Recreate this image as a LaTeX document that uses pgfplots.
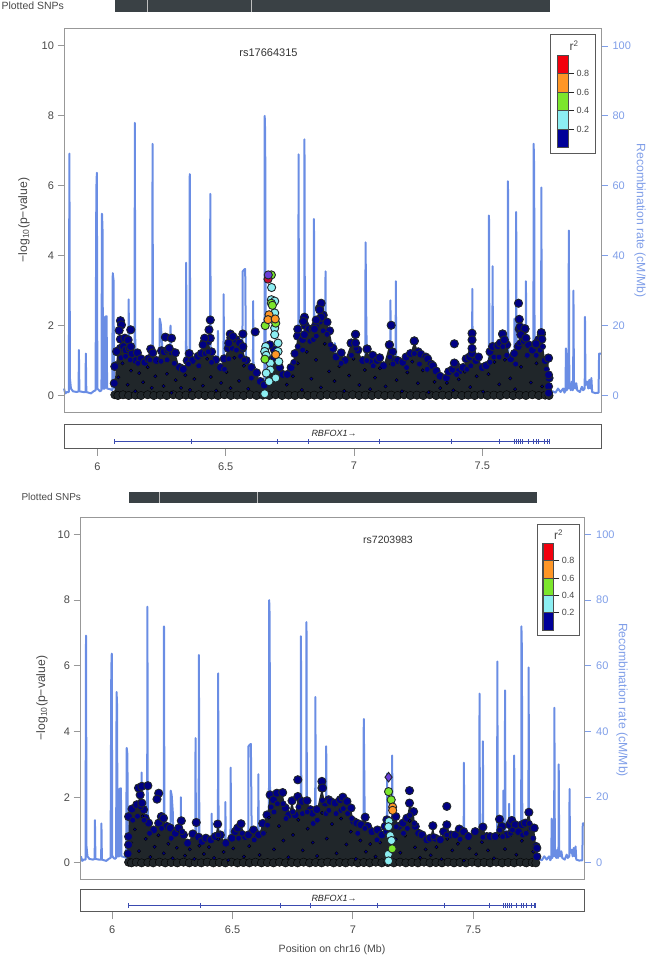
\documentclass[border=0pt]{standalone}
\usepackage{pgfplots}
\pgfplotsset{compat=1.18}
\usepackage{pgfplotstable}
\usepackage{fontspec}
\setmainfont{Liberation Sans}
\definecolor{recl}{HTML}{6A8DE4}
\definecolor{rect}{HTML}{7F9EE8}
\definecolor{darkm}{HTML}{20262A}
\definecolor{navyd}{HTML}{000084}
\definecolor{cyanp}{HTML}{8CEEF2}
\definecolor{greenp}{HTML}{7CE62C}
\definecolor{orangep}{HTML}{FF9626}
\definecolor{purplep}{HTML}{6A3FD8}
\definecolor{redp}{HTML}{C41030}
\definecolor{txt}{HTML}{484848}
\definecolor{boxg}{HTML}{989898}
\definecolor{genel}{HTML}{3A4AB0}
\definecolor{barc}{HTML}{3A4145}

% recombination rate (cM/Mb)
\pgfplotstableread{
x y
5.870 2.0
5.875 0.6
5.882 1.0
5.889 1.0
5.891 69.2
5.893 5.0
5.897 2.0
5.905 1.2
5.920 1.0
5.927 1.2
5.928 13.0
5.930 1.2
5.945 1.0
5.954 1.0
5.955 12.0
5.957 1.0
5.975 0.6
5.985 1.2
5.993 1.5
5.996 59.0
5.998 63.7
6.000 2.0
6.010 1.2
6.016 1.5
6.018 52.0
6.020 48.0
6.022 2.0
6.029 2.0
6.030 22.5
6.036 22.7
6.038 2.0
6.050 1.8
6.058 1.5
6.060 35.0
6.063 33.0
6.065 2.0
6.100 2.0
6.121 2.0
6.122 27.5
6.124 2.0
6.145 2.0
6.146 78.0
6.148 2.0
6.214 2.0
6.215 72.0
6.217 2.0
6.242 2.0
6.243 22.0
6.247 20.5
6.252 15.0
6.254 2.0
6.284 2.0
6.285 20.0
6.287 2.0
6.345 2.0
6.346 38.0
6.348 2.0
6.359 2.0
6.360 63.3
6.362 2.0
6.412 2.0
6.413 15.0
6.415 2.0
6.439 2.0
6.440 57.7
6.442 2.0
6.469 2.0
6.470 18.5
6.472 2.0
6.491 2.0
6.492 29.0
6.494 2.0
6.565 2.0
6.566 35.5
6.572 36.0
6.576 36.2
6.580 2.0
6.606 2.0
6.607 27.0
6.609 2.0
6.651 2.0
6.652 80.0
6.654 75.0
6.656 2.0
6.783 2.0
6.784 69.0
6.786 2.0
6.806 2.0
6.807 73.3
6.809 2.0
6.843 2.0
6.844 50.5
6.846 2.0
6.888 2.0
6.889 35.5
6.891 2.0
6.924 2.0
6.925 15.0
6.927 2.0
7.044 2.0
7.045 43.8
7.048 20.5
7.052 2.0
7.141 2.0
7.142 27.2
7.144 2.0
7.162 2.0
7.163 32.7
7.165 2.0
7.460 2.0
7.461 30.5
7.463 2.0
7.525 2.0
7.526 51.5
7.528 2.0
7.539 2.0
7.540 37.0
7.542 2.0
7.599 2.0
7.600 61.3
7.602 2.0
7.624 2.0
7.625 22.0
7.627 2.0
7.631 2.0
7.632 52.5
7.634 2.0
7.648 2.0
7.649 18.0
7.651 2.0
7.669 2.0
7.670 32.7
7.672 2.0
7.699 2.0
7.700 72.0
7.702 65.0
7.704 2.0
7.729 2.0
7.730 59.5
7.732 2.0
7.765 1.0
7.775 1.2
7.785 0.8
7.795 2.0
7.805 1.0
7.815 2.0
7.820 0.8
7.824 1.5
7.826 13.5
7.829 1.5
7.833 12.0
7.836 2.0
7.837 47.2
7.839 3.0
7.845 1.5
7.849 4.0
7.852 1.5
7.854 2.0
7.855 30.0
7.857 4.0
7.862 2.0
7.866 3.5
7.870 1.5
7.880 1.0
7.888 2.5
7.893 1.5
7.899 2.0
7.900 22.5
7.902 3.0
7.908 4.0
7.913 2.0
7.917 4.5
7.921 2.0
7.925 5.0
7.928 1.0
7.940 0.7
7.953 0.8
7.955 12.0
7.9625 12.0
}\recomb

% SNPs at the floor of the mass (both panels)
\pgfplotstableread{
x y
6.068 0.02
6.080 0.00
6.100 0.02
6.122 0.00
6.148 0.01
6.170 0.00
6.196 0.02
6.220 0.00
6.245 0.01
6.270 0.00
6.296 0.02
6.320 0.00
6.345 0.01
6.370 0.00
6.395 0.02
6.420 0.00
6.445 0.01
6.470 0.00
6.495 0.02
6.520 0.00
6.545 0.01
6.570 0.00
6.595 0.02
6.620 0.00
6.645 0.01
6.670 0.00
6.695 0.02
6.720 0.00
6.745 0.01
6.770 0.00
6.795 0.02
6.820 0.00
6.845 0.01
6.870 0.00
6.895 0.02
6.920 0.00
6.945 0.01
6.970 0.00
6.995 0.02
7.020 0.00
7.045 0.01
7.070 0.00
7.095 0.02
7.120 0.00
7.145 0.01
7.170 0.00
7.195 0.02
7.220 0.00
7.245 0.01
7.270 0.00
7.295 0.02
7.320 0.00
7.345 0.01
7.370 0.00
7.395 0.02
7.420 0.00
7.445 0.01
7.470 0.00
7.495 0.02
7.520 0.00
7.545 0.01
7.570 0.00
7.595 0.02
7.620 0.00
7.645 0.01
7.670 0.00
7.695 0.02
7.720 0.00
7.745 0.01
7.760 0.00
}\floorrow

% panel 1 SNP upper envelope
\pgfplotstableread{
x y
6.068 0.35
6.072 0.85
6.078 1.25
6.090 1.35
6.102 1.40
6.112 1.30
6.125 1.35
6.135 1.20
6.150 1.00
6.156 1.22
6.170 1.05
6.185 0.95
6.200 1.05
6.208 1.33
6.216 1.22
6.230 1.00
6.250 1.28
6.260 1.25
6.275 1.30
6.290 1.25
6.304 1.22
6.320 0.80
6.335 0.75
6.350 1.00
6.358 1.20
6.370 1.00
6.392 1.12
6.405 1.20
6.415 1.50
6.430 1.55
6.445 1.25
6.461 1.02
6.480 0.80
6.494 1.05
6.510 1.35
6.520 1.65
6.540 1.60
6.555 1.45
6.565 1.35
6.580 1.00
6.600 0.80
6.620 0.65
6.635 0.40
6.650 0.30
6.670 1.00
6.690 1.30
6.710 0.80
6.723 0.60
6.740 0.60
6.755 0.80
6.770 1.20
6.780 1.70
6.800 1.60
6.810 2.00
6.825 1.90
6.840 1.90
6.850 2.00
6.865 2.50
6.880 2.30
6.895 2.10
6.905 1.85
6.918 1.35
6.930 1.10
6.950 1.22
6.965 1.00
6.989 1.50
7.006 1.75
7.015 1.30
7.034 1.00
7.051 1.33
7.065 1.00
7.073 1.15
7.090 1.00
7.100 1.08
7.115 0.85
7.138 1.45
7.150 1.25
7.160 1.00
7.170 1.00
7.190 0.95
7.203 1.10
7.220 1.20
7.235 1.56
7.250 1.25
7.260 1.18
7.280 1.10
7.287 1.05
7.300 0.90
7.307 0.85
7.320 0.70
7.335 0.55
7.360 0.50
7.369 0.68
7.385 0.75
7.395 0.90
7.410 0.70
7.425 0.80
7.437 1.05
7.450 1.10
7.460 1.20
7.475 1.00
7.485 1.10
7.500 0.80
7.515 0.85
7.530 1.25
7.540 1.40
7.560 1.42
7.570 1.50
7.579 1.76
7.595 1.45
7.610 1.05
7.625 1.20
7.640 1.40
7.644 1.90
7.655 1.90
7.666 1.90
7.680 1.45
7.695 1.30
7.709 1.45
7.720 1.60
7.730 1.75
7.745 1.00
7.757 1.07
7.760 0.50
}\envA

\pgfplotstableread{
x y
6.092 1.08
6.110 1.12
6.128 1.02
6.158 0.92
6.205 1.02
6.248 0.98
6.272 1.02
6.300 0.92
6.355 0.90
6.395 0.85
6.420 1.20
6.432 1.25
6.445 0.95
6.495 0.75
6.512 1.05
6.525 1.35
6.542 1.30
6.558 1.12
6.572 1.02
6.600 0.50
6.765 0.95
6.782 1.40
6.800 1.30
6.812 1.70
6.828 1.55
6.842 1.60
6.853 1.70
6.868 2.10
6.880 1.85
6.895 1.75
6.908 1.45
6.950 0.92
6.990 1.15
7.008 1.35
7.050 1.00
7.075 0.85
7.140 1.10
7.152 0.90
7.205 0.80
7.235 1.20
7.255 0.90
7.285 0.75
7.400 0.60
7.440 0.75
7.455 0.85
7.530 0.95
7.545 1.10
7.565 1.10
7.580 1.40
7.595 1.15
7.630 0.90
7.645 1.50
7.660 1.55
7.675 1.15
7.710 1.15
7.725 1.30
7.735 1.40
7.750 0.75
}\innerA

\pgfplotstableread{
x y
6.090 2.14
6.094 2.02
6.085 1.86
6.130 1.88
6.090 1.61
6.107 1.64
6.120 1.59
6.130 1.40
6.265 1.67
6.289 1.64
6.280 1.35
6.440 2.16
6.435 1.88
6.440 1.64
6.418 1.64
6.412 1.45
6.518 1.76
6.528 1.69
6.512 1.50
6.567 1.76
6.615 1.82
6.554 1.50
6.567 1.40
6.781 1.90
6.807 2.24
6.803 2.12
6.807 1.74
6.846 1.90
6.872 2.64
6.866 2.45
6.872 2.24
6.853 2.16
7.006 1.75
6.989 1.50
7.006 1.50
7.145 2.01
7.138 1.45
7.051 1.33
7.391 1.48
7.391 0.93
7.460 1.78
7.460 1.59
7.460 1.35
7.235 1.56
7.579 1.76
7.586 1.59
7.641 2.64
7.644 2.18
7.647 1.96
7.666 1.91
7.650 1.74
7.670 1.64
7.730 1.80
7.732 1.61
7.709 1.48
7.758 1.07
7.758 0.59
7.758 0.26
7.758 0.07
6.075 1.26
6.068 0.83
6.066 0.35
6.672 1.45
6.688 1.05
}\dotsA

\pgfplotstableread{
x y
6.082 0.52
6.098 0.92
6.118 0.31
6.131 0.71
6.148 0.12
6.163 0.64
6.178 0.38
6.196 0.81
6.212 0.22
6.226 0.55
6.241 0.98
6.258 0.27
6.271 0.62
6.289 0.08
6.305 0.44
6.326 0.22
6.343 0.58
6.361 0.16
6.378 0.47
6.398 0.82
6.411 0.28
6.428 1.05
6.442 0.53
6.463 0.14
6.482 0.36
6.503 0.67
6.519 0.21
6.534 1.08
6.552 0.42
6.571 0.85
6.588 0.19
6.604 0.52
6.738 0.31
6.762 0.55
6.781 0.92
6.797 0.16
6.816 1.25
6.834 0.48
6.852 1.02
6.871 0.23
6.886 1.48
6.903 0.69
6.924 0.41
6.943 0.84
6.962 0.13
6.981 0.57
6.998 1.05
7.021 0.30
7.042 0.73
7.063 0.18
7.082 0.51
7.101 0.78
7.123 0.26
7.145 0.90
7.166 0.44
7.187 0.12
7.208 0.66
7.227 0.97
7.249 0.35
7.268 0.72
7.291 0.09
7.314 0.39
7.336 0.21
7.362 0.36
7.387 0.15
7.408 0.46
7.432 0.68
7.453 0.24
7.478 0.55
7.503 0.11
7.524 0.61
7.547 0.96
7.566 0.32
7.588 1.02
7.609 0.49
7.628 0.18
7.651 0.82
7.671 1.12
7.689 0.37
7.711 0.92
7.733 0.26
7.750 0.58
}\speckA

% panel 2 SNP upper envelope
\pgfplotstableread{
x y
6.068 0.80
6.068 1.41
6.082 1.64
6.102 1.77
6.116 2.07
6.130 1.62
6.137 1.36
6.151 1.21
6.172 1.00
6.193 1.21
6.204 1.41
6.213 1.36
6.227 1.11
6.241 1.06
6.262 0.90
6.276 1.06
6.287 1.28
6.296 0.85
6.313 0.60
6.335 0.88
6.359 0.78
6.373 0.65
6.389 0.75
6.410 0.70
6.428 0.80
6.438 1.18
6.449 0.85
6.472 0.60
6.497 0.75
6.511 0.95
6.521 1.06
6.535 1.19
6.553 0.80
6.566 0.85
6.587 1.00
6.608 0.85
6.625 1.20
6.643 1.46
6.656 2.07
6.670 1.92
6.684 2.12
6.708 2.14
6.719 1.67
6.733 1.46
6.747 1.89
6.760 1.46
6.771 2.02
6.788 1.87
6.809 1.89
6.823 1.62
6.832 1.51
6.850 1.62
6.871 2.28
6.885 1.82
6.899 1.92
6.906 1.87
6.926 1.82
6.947 1.92
6.958 2.00
6.975 1.87
6.992 1.67
7.003 1.26
7.016 1.21
7.033 1.16
7.051 1.39
7.061 1.11
7.079 0.95
7.102 1.00
7.120 0.85
7.134 1.11
7.141 1.31
7.155 1.26
7.178 1.41
7.190 1.11
7.208 1.21
7.224 1.36
7.235 1.82
7.252 1.56
7.259 1.11
7.273 0.90
7.287 0.85
7.307 0.70
7.321 0.75
7.332 1.13
7.342 0.75
7.363 0.70
7.377 0.95
7.390 1.16
7.407 0.85
7.425 0.85
7.442 1.03
7.460 0.95
7.480 0.80
7.508 0.95
7.540 1.09
7.556 0.80
7.570 0.80
7.591 0.80
7.609 1.33
7.619 1.11
7.640 0.85
7.651 1.16
7.660 1.29
7.674 1.16
7.688 0.95
7.702 1.16
7.716 1.21
7.731 1.54
7.744 1.06
7.753 1.06
7.761 0.50
7.764 0.19
}\envB

\pgfplotstableread{
x y
6.085 1.30
6.105 1.42
6.118 1.70
6.132 1.30
6.155 0.90
6.205 1.05
6.245 0.75
6.290 0.95
6.440 0.85
6.525 0.75
6.540 0.90
6.590 0.70
6.628 0.90
6.645 1.15
6.660 1.70
6.672 1.55
6.686 1.80
6.710 1.80
6.722 1.35
6.750 1.55
6.775 1.70
6.790 1.50
6.810 1.55
6.835 1.20
6.852 1.30
6.873 1.90
6.888 1.50
6.900 1.60
6.930 1.50
6.950 1.60
6.960 1.65
6.978 1.50
6.995 1.35
7.020 0.90
7.050 1.05
7.100 0.70
7.138 0.95
7.180 1.10
7.210 0.90
7.226 1.05
7.237 1.45
7.255 1.20
7.335 0.80
7.390 0.85
7.445 0.72
7.540 0.78
7.610 1.00
7.622 0.80
7.655 0.90
7.663 1.00
7.705 0.85
7.720 0.90
7.733 1.20
7.748 0.75
}\innerB

\pgfplotstableread{
x y
6.109 2.28
6.123 2.33
6.148 2.35
6.193 2.12
6.186 1.94
6.123 1.82
6.349 1.23
6.771 2.53
6.871 2.48
6.874 2.28
7.235 2.20
7.390 1.72
6.068 0.55
6.066 0.28
7.764 0.45
}\dotsB

\pgfplotstableread{
x y
6.079 0.61
6.094 1.02
6.111 0.36
6.125 1.42
6.139 0.73
6.158 0.18
6.176 0.49
6.192 0.84
6.214 0.29
6.233 0.58
6.251 0.14
6.268 0.46
6.283 0.95
6.302 0.22
6.322 0.41
6.341 0.12
6.362 0.52
6.381 0.27
6.402 0.48
6.423 0.15
6.441 0.72
6.463 0.33
6.482 0.08
6.503 0.44
6.527 0.72
6.547 0.19
6.569 0.51
6.591 0.74
6.612 0.24
6.634 0.93
6.651 1.38
6.672 0.41
6.693 1.12
6.711 0.68
6.732 0.17
6.751 0.85
6.773 1.31
6.791 0.38
6.812 1.04
6.833 0.62
6.851 0.21
6.872 1.52
6.891 0.74
6.913 1.18
6.932 0.29
6.951 1.35
6.973 0.56
6.991 0.95
7.012 0.12
7.031 0.68
7.054 0.34
7.072 0.57
7.094 0.19
7.113 0.62
7.178 0.72
7.197 0.31
7.216 0.83
7.236 1.28
7.258 0.47
7.279 0.16
7.302 0.41
7.323 0.23
7.347 0.48
7.368 0.11
7.392 0.73
7.413 0.38
7.436 0.58
7.461 0.07
7.484 0.44
7.512 0.26
7.536 0.63
7.561 0.38
7.586 0.14
7.611 0.82
7.632 0.42
7.658 0.86
7.679 0.25
7.702 0.67
7.724 0.95
7.749 0.34
}\speckB

\pgfplotsset{
  basetext/.style={/pgf/number format/assume math mode=true},
  snpmark/.style={only marks,mark=*,mark size=4.1pt,mark options={draw=darkm,line width=0.9pt,fill=#1}},
  innermark/.style={only marks,mark=*,mark size=3pt,mark options={draw=darkm,line width=0.7pt,fill=navyd}},
  speckmark/.style={only marks,mark=*,mark size=1.7pt,mark options={draw=none,fill=navyd}},
  floormark/.style={only marks,mark=*,mark size=4.2pt,mark options={draw=none,fill=darkm}},
  panelA/.style={xmin=5.87,xmax=7.9625},
  panelB/.style={xmin=5.866,xmax=7.963},
  mainbox/.style={
    scale only axis,anchor=south west,ymin=-0.5,ymax=10.5,
    ytick={0,2,4,6,8,10},xtick=\empty,ytick pos=left,tick align=outside,
    axis line style={draw=boxg,line width=1pt},
    tick style={draw=boxg,line width=1pt},
    major tick length=6.5pt,
    tick label style={font=\fontsize{11}{13}\selectfont,text=txt},
    basetext},
  recaxis/.style={
    scale only axis,anchor=south west,ymin=-5,ymax=105,clip=false,
    hide x axis,axis y line*=right,tick align=outside,
    y axis line style={draw=none},
    ytick={0,20,40,60,80,100},
    tick style={draw=rect,line width=0.9pt},
    major tick length=6.5pt,
    tick label style={font=\fontsize{11}{13}\selectfont,text=rect},
    yticklabel style={xshift=1.5pt},
    basetext},
  geneaxis/.style={
    scale only axis,anchor=south west,ymin=0,ymax=1,clip=false,
    ytick=\empty,xtick={6,6.5,7,7.5},xticklabels={6,6.5,7,7.5},xtick pos=bottom,tick align=outside,
    axis line style={draw=black!65,line width=1pt},
    tick style={draw=boxg,line width=1pt},
    major tick length=7.5pt,
    tick label style={font=\fontsize{11}{13}\selectfont,text=txt},
    xticklabel style={yshift=-3pt},
    basetext},
  legaxis/.style={
    scale only axis,anchor=south west,xmin=0,xmax=1,ymin=0,ymax=1,
    xtick=\empty,ytick={0.2,0.4,0.6,0.8},ytick pos=right,tick align=outside,
    axis line style={draw=black!70,line width=0.5pt},
    tick style={draw=black!85,line width=0.6pt},
    major tick length=6pt,
    tick label style={font=\fontsize{9}{10}\selectfont,text=txt},
    yticklabel style={xshift=-1pt},
    /pgf/number format/fixed,/pgf/number format/fixed zerofill,/pgf/number format/precision=1,
    basetext},
}

\begin{document}
\begin{tikzpicture}[x=1pt,y=1pt]
\path[use as bounding box] (0,0) rectangle (646,957);

% ---------- Panel 1 ----------
\begin{axis}[hide axis,scale only axis,anchor=south west,at={(64pt,945.3pt)},width=537pt,height=11.7pt,panelA,ymin=0,ymax=1,clip=true]
\addplot[fill=barc,draw=none] coordinates {(6.068,0)(7.763,0)(7.763,1)(6.068,1)} --cycle;
\addplot[black!25,line width=0.5pt] coordinates {(6.194,0)(6.194,1)};
\addplot[black!25,line width=0.5pt] coordinates {(6.599,0)(6.599,1)};
\end{axis}
\node[anchor=west,font=\fontsize{10.5}{12}\selectfont,text=txt] at (-2,951) {Plotted SNPs};

\begin{axis}[recaxis,panelA,at={(64pt,544pt)},width=537pt,height=384.5pt]
\addplot[recl,line width=2pt,line join=round] table {\recomb};
\draw[rect,line width=0.9pt] (axis cs:7.9625,0)--(axis cs:7.9625,100);
\end{axis}

\begin{axis}[mainbox,panelA,at={(64pt,544pt)},width=537pt,height=384.5pt]
\addplot[fill=darkm,draw=none] table {\envA} \closedcycle;
\addplot[floormark] table {\floorrow};
\addplot[snpmark=navyd] table {\envA};
\addplot[speckmark] table {\speckA};
\addplot[innermark] table {\innerA};
\addplot[snpmark=navyd] table {\dotsA};
\addplot[snpmark=cyanp] coordinates {(6.679,3.09)(6.678,2.74)(6.691,2.70)(6.691,2.36)(6.691,1.93)(6.691,1.74)(6.704,1.50)(6.656,1.40)(6.652,1.26)(6.658,1.15)(6.704,1.26)(6.707,0.97)(6.674,0.93)(6.674,0.73)(6.695,0.50)(6.669,0.40)(6.658,0.64)(6.652,0.05)};
\addplot[snpmark=greenp] coordinates {(6.678,3.45)(6.678,2.64)(6.682,2.58)(6.654,2.00)(6.695,2.07)(6.653,1.04)};
\addplot[snpmark=orangep] coordinates {(6.669,2.31)(6.665,2.17)(6.693,2.19)(6.695,1.17)};
\addplot[snpmark=redp] coordinates {(6.665,3.33)};
\addplot[snpmark=purplep] coordinates {(6.666,3.45)};
\end{axis}

\node[font=\fontsize{11}{13}\selectfont,text=black!80] at (268.5,904) {rs17664315};
\node[rotate=90,font=\fontsize{12.2}{14}\selectfont,text=txt] at (24,737) {−log\textsubscript{10}(p−value)};
\node[rotate=-90,font=\fontsize{12.2}{14}\selectfont,text=rect] at (640,736.5) {Recombination rate (cM/Mb)};

% legend 1
\draw[draw=black!65,fill=white,line width=0.8pt] (550.7,803.7) rectangle (595.7,923);
\begin{axis}[legaxis,at={(557pt,809.3pt)},width=11pt,height=92.7pt]
\addplot[fill=blue!60!black,draw=black!70] coordinates {(0,0)(1,0)(1,0.2)(0,0.2)} --cycle;
\addplot[fill=cyanp,draw=black!70] coordinates {(0,0.2)(1,0.2)(1,0.4)(0,0.4)} --cycle;
\addplot[fill=greenp,draw=black!70] coordinates {(0,0.4)(1,0.4)(1,0.6)(0,0.6)} --cycle;
\addplot[fill=orangep,draw=black!70] coordinates {(0,0.6)(1,0.6)(1,0.8)(0,0.8)} --cycle;
\addplot[fill=red!95!blue,draw=black!70] coordinates {(0,0.8)(1,0.8)(1,1)(0,1)} --cycle;
\end{axis}
\node[font=\fontsize{12}{14}\selectfont,text=txt] at (574,911) {r\textsuperscript{2}};

% gene 1
\begin{axis}[geneaxis,panelA,at={(64pt,508.7pt)},width=537pt,height=24pt]
\addplot[genel,line width=0.8pt] coordinates {(6.068,0.29)(7.76,0.29)};
\addplot[only marks,mark=|,mark size=2.3pt,mark options={draw=genel,line width=0.8pt}] coordinates {(6.068,0.29)(6.366,0.29)(6.70,0.29)(6.823,0.29)(7.10,0.29)(7.38,0.29)(7.566,0.29)(7.625,0.29)(7.634,0.29)(7.642,0.29)(7.650,0.29)(7.657,0.29)(7.679,0.29)(7.70,0.29)(7.71,0.29)(7.72,0.29)(7.74,0.29)(7.755,0.29)(7.76,0.29)};
\end{axis}
\node[font=\fontsize{9}{11}\selectfont\itshape,text=black!85] at (334,524) {RBFOX1→};

% ---------- Panel 2 ----------
\begin{axis}[hide axis,scale only axis,anchor=south west,at={(80pt,454.3pt)},width=504.7pt,height=10.4pt,panelB,ymin=0,ymax=1]
\addplot[fill=barc,draw=none] coordinates {(6.069,0)(7.764,0)(7.764,1)(6.069,1)} --cycle;
\addplot[black!25,line width=0.5pt] coordinates {(6.195,0)(6.195,1)};
\addplot[black!25,line width=0.5pt] coordinates {(6.601,0)(6.601,1)};
\end{axis}
\node[anchor=west,font=\fontsize{10}{12}\selectfont,text=txt] at (18,460) {Plotted SNPs};

\begin{axis}[recaxis,panelB,at={(80pt,77.7pt)},width=504.7pt,height=361.3pt]
\addplot[recl,line width=2pt,line join=round] table {\recomb};
\draw[rect,line width=0.9pt] (axis cs:7.963,0)--(axis cs:7.963,100);
\end{axis}

\begin{axis}[mainbox,panelB,at={(80pt,77.7pt)},width=504.7pt,height=361.3pt]
\addplot[fill=darkm,draw=none] table {\envB} \closedcycle;
\addplot[floormark] table {\floorrow};
\addplot[snpmark=navyd] table {\envB};
\addplot[speckmark] table {\speckB};
\addplot[innermark] table {\innerB};
\addplot[snpmark=navyd] table {\dotsB};
\addplot[snpmark=cyanp] coordinates {(7.150,1.26)(7.148,1.10)(7.155,0.83)(7.160,0.68)(7.147,0.26)(7.148,0.06)};
\addplot[snpmark=greenp] coordinates {(7.148,2.17)(7.159,1.92)(7.163,0.43)};
\addplot[snpmark=orangep] coordinates {(7.165,1.70)(7.165,1.60)};
\addplot[only marks,mark=diamond*,mark size=4.8pt,mark options={draw=darkm,line width=0.9pt,fill=purplep}] coordinates {(7.148,2.61)};
\end{axis}

\node[font=\fontsize{10.5}{12}\selectfont,text=black!80] at (388,417) {rs7203983};
\node[rotate=90,font=\fontsize{12.2}{14}\selectfont,text=txt] at (42,259) {−log\textsubscript{10}(p−value)};
\node[rotate=-90,font=\fontsize{12.2}{14}\selectfont,text=rect] at (622,257) {Recombination rate (cM/Mb)};

% legend 2
\draw[draw=black!65,fill=white,line width=0.8pt] (537.3,321.3) rectangle (579.3,433);
\begin{axis}[legaxis,at={(542.7pt,327pt)},width=10.6pt,height=86.7pt]
\addplot[fill=blue!60!black,draw=black!70] coordinates {(0,0)(1,0)(1,0.2)(0,0.2)} --cycle;
\addplot[fill=cyanp,draw=black!70] coordinates {(0,0.2)(1,0.2)(1,0.4)(0,0.4)} --cycle;
\addplot[fill=greenp,draw=black!70] coordinates {(0,0.4)(1,0.4)(1,0.6)(0,0.6)} --cycle;
\addplot[fill=orangep,draw=black!70] coordinates {(0,0.6)(1,0.6)(1,0.8)(0,0.8)} --cycle;
\addplot[fill=red!95!blue,draw=black!70] coordinates {(0,0.8)(1,0.8)(1,1)(0,1)} --cycle;
\end{axis}
\node[font=\fontsize{12}{14}\selectfont,text=txt] at (558.5,422) {r\textsuperscript{2}};

% gene 2
\begin{axis}[geneaxis,panelB,at={(80pt,45.3pt)},width=504.7pt,height=22.4pt]
\addplot[genel,line width=0.8pt] coordinates {(6.068,0.285)(7.76,0.285)};
\addplot[only marks,mark=|,mark size=2.3pt,mark options={draw=genel,line width=0.8pt}] coordinates {(6.068,0.285)(6.366,0.285)(6.70,0.285)(6.823,0.285)(7.10,0.285)(7.38,0.285)(7.566,0.285)(7.625,0.285)(7.634,0.285)(7.642,0.285)(7.650,0.285)(7.657,0.285)(7.679,0.285)(7.70,0.285)(7.71,0.285)(7.72,0.285)(7.74,0.285)(7.755,0.285)(7.76,0.285)};
\end{axis}
\node[font=\fontsize{9}{11}\selectfont\itshape,text=black!85] at (334,59) {RBFOX1→};
\node[font=\fontsize{10.6}{13}\selectfont,text=txt] at (332,7) {Position on chr16 (Mb)};

\end{tikzpicture}
\end{document}
